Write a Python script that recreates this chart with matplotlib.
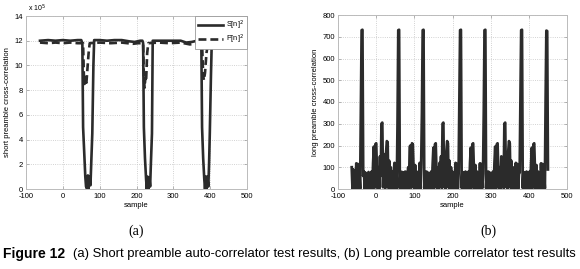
import numpy as np
import matplotlib.pyplot as plt

# (a) short preamble auto-correlator, values in units of 1e5
s_x = [-62, -40, -20, 0, 20, 40, 50, 53, 55, 58, 61, 63, 66, 68, 70, 72, 75, 77, 80, 83, 85,
       100, 120, 140, 160, 180, 195, 210, 216, 218, 220, 223, 226, 228, 230, 232, 235, 237,
       239, 242, 244, 260, 280, 300, 320, 335, 350, 365, 374, 376, 378, 381, 384, 386, 388,
       390, 392, 395, 397, 399, 402, 404, 408, 410]
s_y = [12.0, 12.05, 12.0, 12.05, 12.0, 12.05, 12.05, 11.8, 5.0, 3.0, 1.0, 0.2, 0.0, 1.1, 0.0,
       1.0, 0.3, 2.0, 4.5, 10.0, 12.05,
       12.05, 12.0, 12.05, 12.05, 11.95, 11.9, 12.0, 12.0, 11.8, 5.0, 2.5, 0.8, 0.0, 1.0,
       0.0, 0.9, 0.2, 2.0, 4.5, 12.0, 12.0, 12.0, 12.0, 12.0, 11.85, 11.9, 12.0, 12.05,
       11.8, 5.0, 2.5, 0.8, 0.0, 1.0, 0.0, 1.0, 0.2, 2.0, 4.5, 9.0, 11.5, 12.1, 12.2]

p_x = [-62, -40, -20, 0, 20, 40, 55, 57, 59, 62, 64, 66, 70, 73, 100, 130, 160, 190, 205,
       218, 220, 222, 224, 226, 229, 232, 260, 290, 320, 345, 365, 378, 381, 383, 386, 390,
       394, 405]
p_y = [11.85, 11.8, 11.85, 11.8, 11.85, 11.8, 11.8, 9.3, 8.5, 9.0, 8.6, 9.4, 11.0, 11.8,
       11.85, 11.8, 11.85, 11.75, 11.8, 11.8, 9.0, 8.2, 9.0, 8.7, 11.0, 11.8, 11.85, 11.8,
       11.85, 11.7, 11.8, 11.8, 9.2, 8.8, 9.4, 11.0, 11.8, 11.85]

# (b) long preamble correlator, one value every 2 samples from -64 to 450
l_start, l_stop, l_step = -64, 450, 2
l_y = [
    100, 2, 90, 5, 85, 3, 118, 2, 115, 4, 70, 1, 350, 730, 732, 60, 80, 2, 75, 1,
    70, 3, 78, 1, 72, 4, 80, 2, 120, 195, 6, 205, 210, 90, 3, 100, 2, 150, 60, 300,
    305, 8, 120, 160, 4, 165, 220, 215, 5, 130, 2, 100, 1, 80, 3, 75, 120, 2, 115, 1,
    300, 730, 732, 5, 80, 1, 78, 3, 75, 2, 80, 1, 78, 3, 100, 4, 195, 200, 6, 210,
    205, 90, 2, 110, 3, 80, 1, 75, 2, 120, 1, 115, 350, 730, 732, 4, 78, 1, 80, 2,
    75, 3, 72, 1, 80, 2, 110, 190, 5, 205, 210, 80, 2, 100, 3, 120, 60, 150, 4, 300,
    305, 9, 160, 3, 170, 220, 210, 6, 130, 2, 100, 1, 80, 3, 75, 2, 120, 1, 115, 3,
    70, 400, 730, 732, 5, 78, 1, 75, 2, 80, 3, 72, 1, 80, 3, 120, 190, 5, 205, 210,
    90, 2, 110, 3, 80, 1, 75, 2, 118, 1, 115, 4, 70, 350, 730, 732, 4, 78, 1, 80,
    2, 75, 3, 72, 1, 80, 2, 120, 195, 5, 205, 210, 80, 2, 100, 3, 150, 60, 120, 4,
    300, 305, 9, 160, 3, 170, 220, 210, 6, 130, 2, 100, 1, 80, 3, 120, 2, 115, 1, 70,
    75, 400, 730, 732, 5, 78, 1, 75, 2, 80, 3, 72, 1, 80, 3, 120, 190, 5, 205, 210,
    90, 2, 110, 3, 80, 1, 75, 2, 118, 1, 115, 4, 70, 3, 400, 728, 726, 90,
]
l_x = np.arange(l_start, l_stop + 1, l_step)

line_c = '#2b2b2b'
grid_c = '#c4c4c4'
plt.rcParams['font.family'] = ['Liberation Sans', 'DejaVu Sans']
plt.rcParams['axes.unicode_minus'] = False

fig = plt.figure(figsize=(5.8, 2.69), dpi=100)
ax1 = fig.add_axes([26/580, 1 - 189/269, 221/580, 173/269])
ax2 = fig.add_axes([338/580, 1 - 189/269, 229/580, 174/269])

ax1.plot(s_x, s_y, color=line_c, lw=1.9, label='S[n]$^2$')
ax1.plot(p_x, p_y, color=line_c, lw=1.9, ls=(0, (3, 1.5)), label='P[n]$^2$')
ax1.set_xlim(-100, 500)
ax1.set_ylim(0, 14)
ax1.set_xticks(range(-100, 501, 100))
ax1.set_yticks(range(0, 15, 2))
ax1.set_ylabel('short preamble cross-correlation', fontsize=5.5, labelpad=3)
ax1.text(0.01, 1.01, 'x 10$^5$', transform=ax1.transAxes, fontsize=5, va='bottom')
leg = ax1.legend(loc='upper right', fontsize=5.3, borderaxespad=0, handlelength=3.4,
                 handletextpad=0.5, fancybox=False, framealpha=1, borderpad=0.35,
                 labelspacing=0.15)
leg.get_frame().set_edgecolor('#999999')
leg.get_frame().set_linewidth(0.6)

ax2.plot(l_x, l_y, color=line_c, lw=2.0)
ax2.set_xlim(-100, 500)
ax2.set_ylim(0, 800)
ax2.set_xticks(range(-100, 501, 100))
ax2.set_yticks(range(0, 801, 100))
ax2.set_ylabel('long preamble cross-correlation', fontsize=5.5, labelpad=3)

for ax in (ax1, ax2):
    ax.set_xlabel('sample', fontsize=5.5, labelpad=1)
    ax.grid(True, ls=':', color=grid_c, lw=0.6)
    ax.set_axisbelow(True)
    ax.tick_params(labelsize=5.5, direction='in', length=2, width=0.5, color='#999999',
                   top=True, right=True, pad=2)
    ax.tick_params(axis='x', pad=3)
    for sp in ax.spines.values():
        sp.set_color('#bbbbbb')
        sp.set_linewidth(0.7)

fig.text(136/580, 1 - 231/269, '(a)', family='Liberation Serif', fontsize=10, ha='center', va='center')
fig.text(488/580, 1 - 231/269, '(b)', family='Liberation Serif', fontsize=10, ha='center', va='center')
fig.text(3/580, 1 - 254/269, 'Figure 12', fontsize=10, fontweight='bold', ha='left', va='center')
cap = fig.text(73/580, 1 - 254/269,
               '(a) Short preamble auto-correlator test results, (b) Long preamble correlator test results',
               family=['Liberation Sans Narrow', 'Liberation Sans'], fontsize=9, ha='left', va='center')

# stretch caption font so it spans to the right edge like the reference
r = fig.canvas.get_renderer()
w = cap.get_window_extent(r).width
cap.set_fontsize(9 * (578 - 73) / w)

fig.savefig('out.png', dpi=100)
